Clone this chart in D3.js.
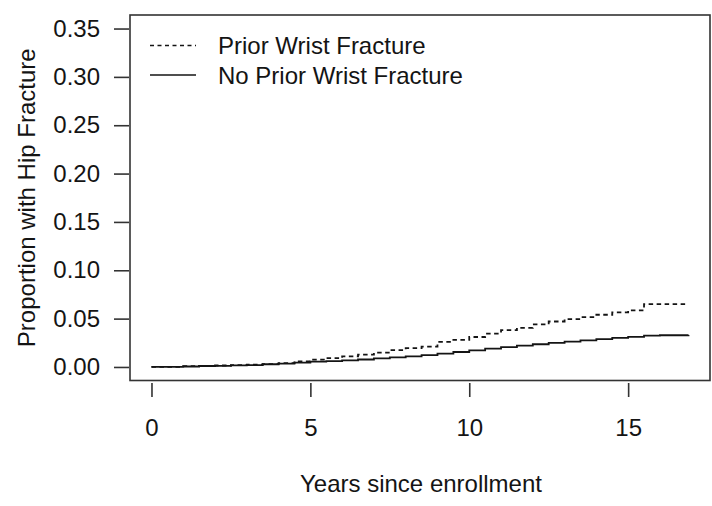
<!DOCTYPE html>
<html>
<head>
<meta charset="utf-8">
<script src="https://cdn.jsdelivr.net/npm/d3@7"></script>
<style>
  html, body { margin: 0; padding: 0; background: #fff; }
  svg { display: block; font-family: "Liberation Sans", Arial, sans-serif; }
</style>
</head>
<body>
<div id="chart"></div>
<script>
// years since enrollment (step times)
var years = [0, 0.5, 1, 1.5, 2, 2.5, 3, 3.5, 4, 4.5, 5, 5.5, 6, 6.5, 7, 7.5, 8, 8.5,
  9, 9.5, 10, 10.5, 11, 11.5, 12, 12.5, 13, 13.5, 14, 14.5, 15, 15.5, 16, 16.9];

// cumulative proportion with hip fracture
var priorWrist = [0, 0, 0.0008, 0.0012, 0.0015, 0.002, 0.0025, 0.003, 0.004, 0.0058,
  0.0075, 0.0092, 0.011, 0.0128, 0.0148, 0.0175, 0.0195, 0.021, 0.026, 0.028, 0.031,
  0.0345, 0.038, 0.0405, 0.044, 0.047, 0.0495, 0.0515, 0.054, 0.0565, 0.0585, 0.065,
  0.065, 0.065];
var noPriorWrist = [0, 0, 0.0005, 0.001, 0.0012, 0.0016, 0.002, 0.0028, 0.0035, 0.0045,
  0.0055, 0.006, 0.0068, 0.0077, 0.0088, 0.01, 0.011, 0.0122, 0.0138, 0.0155, 0.0172,
  0.019, 0.0205, 0.022, 0.0235, 0.025, 0.0263, 0.0275, 0.0288, 0.03, 0.0312, 0.0324,
  0.0328, 0.033];

var seriesNames = ["Prior Wrist Fracture", "No Prior Wrist Fracture"];
var xTicks = [0, 5, 10, 15];
var yTicks = [0, 0.05, 0.1, 0.15, 0.2, 0.25, 0.3, 0.35];

var width = 712, height = 506;
var box = { left: 130, right: 710, top: 15, bottom: 380.5 };
var ink = "#141414";

// R style axis padding (4% on each side)
var x = d3.scaleLinear().domain([-0.676, 17.576]).range([box.left, box.right]);
var y = d3.scaleLinear().domain([-0.014, 0.364]).range([box.bottom, box.top]);

var svg = d3.select("#chart")
  .append("svg")
  .attr("width", width)
  .attr("height", height);

// plot box
svg.append("rect")
  .attr("x", box.left)
  .attr("y", box.top)
  .attr("width", box.right - box.left)
  .attr("height", box.bottom - box.top)
  .attr("fill", "none")
  .attr("stroke", "#333")
  .attr("stroke-width", 1.6);

// axes, ticks only, a little off the box
var xAxis = d3.axisBottom(x).tickValues(xTicks).tickSize(14).tickPadding(22)
  .tickFormat(d3.format("d"));
var yAxis = d3.axisLeft(y).tickValues(yTicks).tickSize(15).tickPadding(14)
  .tickFormat(d3.format(".2f"));

var gx = svg.append("g")
  .attr("transform", "translate(0," + (box.bottom + 2.5) + ")")
  .call(xAxis);
var gy = svg.append("g")
  .attr("transform", "translate(" + (box.left - 1) + ",0)")
  .call(yAxis);

[gx, gy].forEach(function(g) {
  g.select(".domain").remove();
  g.selectAll(".tick line").attr("stroke", "#333").attr("stroke-width", 1.6);
  g.selectAll(".tick text")
    .attr("fill", ink)
    .style("font-size", "24px")
    .style("font-family", "'Liberation Sans', Arial, sans-serif");
});

// axis titles
svg.append("text")
  .attr("x", (x(0) + x(16.9)) / 2 + 1)
  .attr("y", 492)
  .attr("text-anchor", "middle")
  .attr("fill", ink)
  .style("font-size", "24px")
  .text("Years since enrollment");

svg.append("text")
  .attr("transform", "translate(35," + (y(0) + y(0.35)) / 2 + ") rotate(-90)")
  .attr("text-anchor", "middle")
  .attr("fill", ink)
  .style("font-size", "24px")
  .text("Proportion with Hip Fracture");

// curves
var line = d3.line()
  .x(function(d) { return x(d[0]); })
  .y(function(d) { return y(d[1]); })
  .curve(d3.curveStepAfter);

var dashes = ["4.5,3.5", null];
[priorWrist, noPriorWrist].forEach(function(vals, i) {
  svg.append("path")
    .datum(years.map(function(t, j) { return [t, vals[j]]; }))
    .attr("d", line)
    .attr("fill", "none")
    .attr("stroke", ink)
    .attr("stroke-width", 1.8)
    .attr("stroke-dasharray", dashes[i]);
});

// legend
var legend = svg.append("g");
seriesNames.forEach(function(name, i) {
  var ly = 45.5 + i * 29.5;
  legend.append("line")
    .attr("x1", 150).attr("x2", 196)
    .attr("y1", ly).attr("y2", ly)
    .attr("stroke", ink)
    .attr("stroke-width", 1.6)
    .attr("stroke-dasharray", dashes[i] ? "4,3.5" : null);
  legend.append("text")
    .attr("x", 218)
    .attr("y", ly + 8.5)
    .attr("fill", ink)
    .style("font-size", "24px")
    .text(name);
});
</script>
</body>
</html>
